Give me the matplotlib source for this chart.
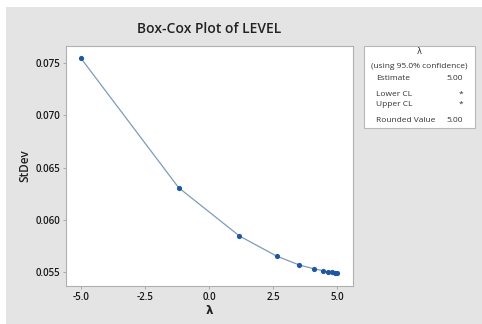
import numpy as np
import matplotlib
matplotlib.use('Agg')
import matplotlib.pyplot as plt
from matplotlib.patches import Rectangle

plt.rcParams['font.family'] = ['Open Sans', 'DejaVu Sans']

# lambda values and StDev
lam = [-5.0, -1.19, 1.18, 2.63, 3.52, 4.07, 4.43, 4.65, 4.79, 4.90, 5.0]
stdev = [0.07548, 0.06306, 0.05843, 0.05650, 0.05564, 0.05529, 0.05510,
         0.05497, 0.05496, 0.05490, 0.05485]

xticks = [-5.0, -2.5, 0.0, 2.5, 5.0]
yticks = [0.055, 0.060, 0.065, 0.070, 0.075]

# legend box rows: (label, value)
box_rows = [('Estimate', '5.00'), ('Lower CL', '*'), ('Upper CL', '*'),
            ('Rounded Value', '5.00')]
box_y = [78, 94, 104, 121]

W, H = 482, 324
fig = plt.figure(figsize=(W / 100, H / 100), dpi=100)
fig.patch.set_facecolor('white')

# gray panel background
fig.patches.append(Rectangle((6 / W, -0.01), 1, 1 - 7 / H + 0.01, transform=fig.transFigure,
                             facecolor='#e4e4e4', edgecolor='none', zorder=-10))

ax = fig.add_axes([66 / W, 1 - 286 / H, (353 - 66) / W, (286 - 46) / H])
ax.set_facecolor('white')
ax.plot(lam, stdev, color='#7d9cbc', lw=0.9, zorder=2)
ax.scatter(lam, stdev, s=14, color='#1f56a0', zorder=3, linewidths=0)

ax.set_xlim(-5.585, 5.61)
ax.set_ylim(0.05363, 0.07666)
ax.set_xticks(xticks)
ax.set_xticklabels([f'{v:.1f}' for v in xticks])
ax.set_yticks(yticks)
ax.set_yticklabels([f'{v:.3f}' for v in yticks])
ax.tick_params(labelsize=7, length=2, pad=2, color='#a0a0a0', width=0.6,
               labelcolor='#1a1a1a')
for lbl in ax.get_xticklabels() + ax.get_yticklabels():
    lbl.set_fontweight('semibold')
for s in ax.spines.values():
    s.set_color('#b0b0b0')
    s.set_linewidth(0.8)

fig.text(209.5 / W, 1 - 29 / H, 'Box-Cox Plot of LEVEL', ha='center', va='center',
         fontsize=10, fontweight='semibold', color='#222222')
fig.text(209.5 / W, 1 - 310 / H, 'λ', ha='center', va='center',
         fontsize=8.5, fontweight='bold', color='#222222', family='DejaVu Sans')
fig.text(25 / W, 1 - 166 / H, 'StDev', ha='center', va='center', rotation=90,
         fontsize=8.5, fontweight='semibold', color='#222222')

# summary box
fig.patches.append(Rectangle((364 / W, 1 - 128 / H), (475 - 364) / W, (128 - 46) / H,
                             transform=fig.transFigure, facecolor='white',
                             edgecolor='#b8b8b8', lw=0.8))
fig.text(419.5 / W, 1 - 52 / H, 'λ', ha='center', va='center', fontsize=6,
         color='#333333', family='DejaVu Sans')
fig.text(419.5 / W, 1 - 66 / H, '(using 95.0% confidence)', ha='center', va='center',
         fontsize=6, color='#333333')
for (lab, val), y in zip(box_rows, box_y):
    fig.text(376 / W, 1 - y / H, lab, ha='left', va='center', fontsize=6, color='#333333')
    fig.text(463 / W, 1 - y / H, val, ha='right', va='center', fontsize=6, color='#333333')

fig.savefig('out.png', dpi=100)
